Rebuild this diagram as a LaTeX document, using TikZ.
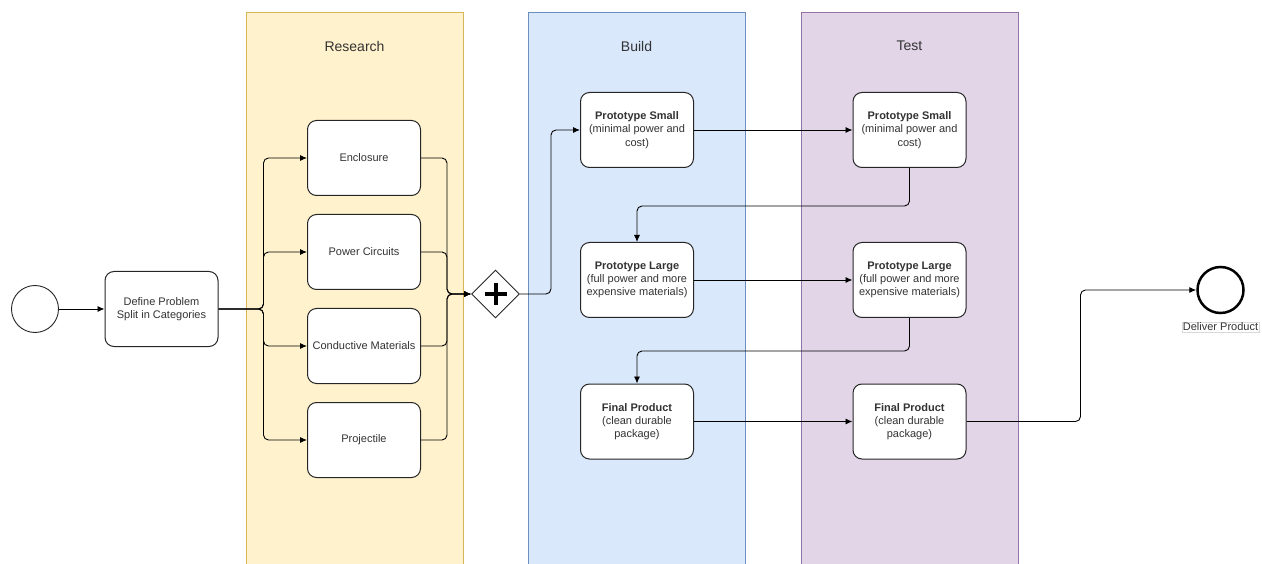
\documentclass[tikz,border=0pt]{standalone}
\usepackage{fontspec}
\setmainfont{Liberation Sans}
\usetikzlibrary{shapes.geometric,arrows.meta,positioning}
\definecolor{resfill}{HTML}{FFF2CC}
\definecolor{resline}{HTML}{D6B656}
\definecolor{buifill}{HTML}{DAE8FC}
\definecolor{builine}{HTML}{6C8EBF}
\definecolor{tesfill}{HTML}{E1D5E7}
\definecolor{tesline}{HTML}{9673A6}
\tikzset{
  task/.style={draw=black!85,rounded corners=9pt,fill=white,minimum width=113pt,
    minimum height=75pt,align=center,inner sep=1pt,text=black!80,line width=1pt,
    font=\fontsize{11}{13.3}\selectfont},
  flow/.style={-{Latex[length=7pt,width=6pt]},rounded corners=5pt,line width=0.9pt},
  lanetitle/.style={text=black!80,font=\fontsize{14}{16}\selectfont}
}

\begin{document}
\begin{tikzpicture}[x=1pt,y=-1pt]
			\useasboundingbox (0,0) rectangle (1262,564);
			\clip (0,0) rectangle (1262,564);
			% lanes
			\draw[draw=resline,fill=resfill,line width=0.8pt] (246,12) rectangle (463,580);
			\draw[draw=builine,fill=buifill,line width=0.8pt] (528,12) rectangle (745,580);
			\draw[draw=tesline,fill=tesfill,line width=0.8pt] (801,12) rectangle (1018,580);
			\node[lanetitle] (research) at (354.5,46) {Research};
			\node[lanetitle] (build) at (636.5,46) {Build};
			\node[lanetitle] (test) at (909.5,46) {Test};
			% start and split
			\node[draw=black!85,circle,minimum size=47pt,inner sep=0pt,line width=0.9pt] (start) at (35,309) {};
			\node[task] (def) at (161.5,309) {Define Problem\\Split in Categories};
			\draw[flow] (start) -- (def);
			\foreach \y/\n/\t in {158/enc/Enclosure,252/pow/Power Circuits,346/con/Conductive Materials,440/pro/Projectile}
			{
			\node[task] (\n) at (364,\y) {\t};
			\draw[flow] (def.east) -- ++(45,0) |- (\n.west);
			}
			% gateway
			\node[draw=black!85,fill=white,diamond,minimum size=48pt,inner sep=0pt,line width=0.9pt] (gw) at (495.5,294) {};
			\draw[line width=4pt] ([xshift=-11pt]gw.center) -- ([xshift=11pt]gw.center);
			\draw[line width=4pt] ([yshift=-11pt]gw.center) -- ([yshift=11pt]gw.center);
			\foreach \n in {enc,pow,con,pro}
			{
			\draw[flow] (\n.east) -- ++(26,0) |- (gw.west);
			}
			% build and test
			\foreach \y/\n/\t in {130/small/{\textbf{Prototype Small}\\(minimal power and\\cost)},280/large/{\textbf{Prototype Large}\\(full power and more\\expensive materials)},421.5/final/{\textbf{Final Product}\\(clean durable\\package)}}
			{
			\node[task] (b\n) at (637,\y) {\t};
			\node[task] (t\n) at (909.5,\y) {\t};
			\draw[flow] (b\n.east) -- (t\n.west);
			}
			\draw[flow] (gw.east) -- ++(31,0) |- (bsmall.west);
			\draw[flow] (tsmall.south) -- ++(0,38) -| (blarge.north);
			\draw[flow] (tlarge.south) -- ++(0,33) -| (bfinal.north);
			% end
			\node[draw=black,circle,minimum size=46pt,inner sep=0pt,line width=2.5pt] (finish) at (1220.5,290) {};
			\node[draw=black!15,fill=white,inner sep=1pt,text=black!80,font=\fontsize{11}{13}\selectfont] (deliver) at (1220.5,327) {Deliver Product};
			\draw[flow] (tfinal.east) -- ++(114,0) |- (finish.west);
		\end{tikzpicture}
\end{document}
